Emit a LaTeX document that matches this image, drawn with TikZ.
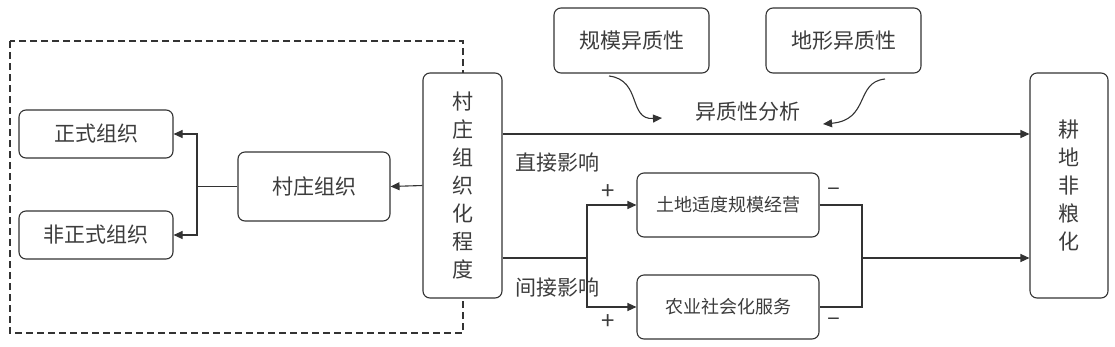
\documentclass[tikz,border=0pt]{standalone}
\usepackage{fontspec}
\setmainfont{Noto Sans CJK SC}
\usetikzlibrary{arrows.meta}
\definecolor{linegray}{RGB}{51,51,51}
\definecolor{textgray}{RGB}{60,60,60}

\begin{document}
\begin{tikzpicture}[x=1pt,y=-1pt,
  box/.style={draw=linegray,line width=1.1pt,rounded corners=7pt,fill=white,
    text=textgray,font=\fontsize{21}{28}\selectfont,align=center,inner sep=0pt},
  smallbox/.style={box,font=\fontsize{18}{22}\selectfont,minimum width=182pt,minimum height=64pt},
  lnk/.style={draw=linegray,line width=1.1pt},
  arr/.style={lnk,-{Triangle[length=9pt,width=8pt]}},
  lbl/.style={text=textgray,font=\fontsize{21}{25}\selectfont,inner sep=0pt},
  sgn/.style={text=textgray,font=\fontsize{24}{26}\selectfont,inner sep=0pt}]
  \useasboundingbox (0,0) rectangle (1115,346);
  \draw[lnk,dash pattern=on 7pt off 4pt] (10,41) rectangle (463,333);

  \node[box,minimum width=79pt,minimum height=225pt] (cd) at (462.5,185.5) {村\\庄\\组\\织\\化\\程\\度};
  \node[box,minimum width=152pt,minimum height=69pt] (vo) at (314,186.5) {村庄组织};
  \node[box,minimum width=154pt,minimum height=48pt] (fo) at (96,134) {正式组织};
  \node[box,minimum width=154pt,minimum height=48pt] (io) at (96,235) {非正式组织};
  \node[box,minimum width=155pt,minimum height=65pt] (gm) at (631.5,40.5) {规模异质性};
  \node[box,minimum width=155pt,minimum height=65pt] (dx) at (843.5,40.5) {地形异质性};
  \node[box,minimum width=78pt,minimum height=225pt] (gd) at (1069,185.5) {耕\\地\\非\\粮\\化};
  \node[smallbox] (ls) at (728,205) {土地适度规模经营};
  \node[smallbox] (as) at (728,307) {农业社会化服务};

  \node[lbl] (hz) at (748,112) {异质性分析};
  \node[lbl] (zj) at (557,163) {直接影响};
  \node[lbl] (jj) at (557,288) {间接影响};
  \node[sgn] (p1) at (608,192) {+};
  \node[sgn] (p2) at (608,322) {+};
  \node[sgn] (m1) at (834,192) {–};
  \node[sgn] (m2) at (834,322) {–};

  \draw[arr] (cd.west) -- (vo.east);
  \coordinate (br) at (197,186.5);
  \draw[lnk] (vo.west) -- (br);
  \draw[arr] (br) |- (fo.east);
  \draw[arr] (br) |- (io.east);

  \draw[arr] ([yshift=51.5pt]cd.east) -- ([yshift=51.5pt]gd.west);
  \coordinate (sp) at (587,258);
  \draw[lnk] ([yshift=-72.5pt]cd.east) -- (sp);
  \draw[arr] (sp) |- (ls.west);
  \draw[arr] (sp) |- (as.west);
  \coordinate (mg) at (862,258);
  \draw[lnk] (ls.east) -| (mg) |- (as.east);
  \draw[arr] (mg) -- ([yshift=-72.5pt]gd.west);

  \coordinate (c1) at (609,76);
  \coordinate (t1) at (662,118);
  \draw[arr] (c1) .. controls (642,80) and (628,120) .. (t1);
  \coordinate (c2) at (885,79);
  \coordinate (t2) at (823,124);
  \draw[arr] (c2) .. controls (855,82) and (870,120) .. (t2);
\end{tikzpicture}
\end{document}
